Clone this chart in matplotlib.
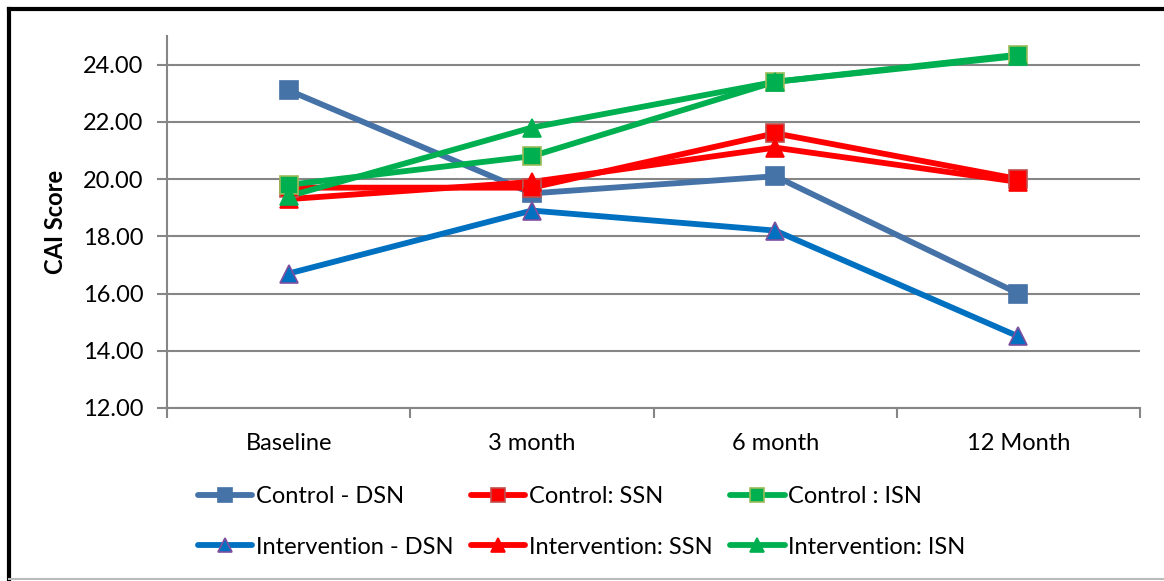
import matplotlib
matplotlib.use("Agg")
import matplotlib.pyplot as plt
from matplotlib.lines import Line2D
import numpy as np

# ---------------------------------------------------------------------------
# Data
# ---------------------------------------------------------------------------
categories = ["Baseline", "3 month", "6 month", "12 Month"]

control_dsn = [23.1, 19.5, 20.1, 16.0]
control_ssn = [19.7, 19.7, 21.6, 20.0]
control_isn = [19.8, 20.8, 23.4, 24.35]
intervention_dsn = [16.7, 18.9, 18.2, 14.5]
intervention_ssn = [19.3, 19.9, 21.1, 19.9]
intervention_isn = [19.4, 21.8, 23.4, 24.3]

y_ticks = [12, 14, 16, 18, 20, 22, 24]

plt.rcParams["font.family"] = ["Lato", "DejaVu Sans"]

fig = plt.figure(figsize=(11.64, 5.81), dpi=100)
ax = fig.add_axes([0.1435, 0.2978, 0.8359, 0.6402])

x = np.arange(len(categories)) + 0.5

# series: (label, values, line colour, marker, marker face, marker edge)
series = [
    ("Control - DSN", control_dsn, "#4572A7", "s", "#4572A7", "#4572A7"),
    ("Control: SSN", control_ssn, "#FF0000", "s", "#FF0000", "#C0504D"),
    ("Control : ISN", control_isn, "#00B050", "s", "#00B050", "#9BBB59"),
    ("Intervention - DSN", intervention_dsn, "#0070C0", "^", "#0070C0", "#7F4F9F"),
    ("Intervention: SSN", intervention_ssn, "#FF0000", "^", "#FF0000", "#FF0000"),
    ("Intervention: ISN", intervention_isn, "#00B050", "^", "#00B050", "#00B050"),
]

handles = {}
for i, (label, vals, col, mk, mfc, mec) in enumerate(series):
    ax.plot(x, vals, color=col, linewidth=4.2, zorder=3 + i, solid_capstyle="round")
    ax.plot(x, vals, linestyle="none", marker=mk, markersize=13,
            markerfacecolor=mfc, markeredgecolor=mec, markeredgewidth=1.2,
            zorder=10 + i)
    handles[label] = Line2D([], [], color=col, linewidth=4.2, marker=mk,
                            markersize=10, markerfacecolor=mfc,
                            markeredgecolor=mec, markeredgewidth=1.2,
                            solid_capstyle="round")

# Axes styling
ax.set_xlim(0, 4)
ax.set_ylim(12, 25)
ax.set_yticks(y_ticks)
ax.set_yticklabels([f"{v:.2f}" for v in y_ticks], fontsize=17)
ax.grid(axis="y", color="#868686", linewidth=1.5, zorder=0)
ax.set_axisbelow(True)

ax.set_xticks([0, 1, 2, 3, 4])
ax.set_xticklabels([])
ax.set_xticks(x, minor=True)
ax.set_xticklabels(categories, minor=True, fontsize=17)
ax.tick_params(axis="x", which="minor", length=0, pad=18)
ax.tick_params(axis="x", which="major", length=7, width=1.5, color="#868686",
               direction="out")
ax.tick_params(axis="y", length=7, width=1.5, color="#868686", direction="out",
               pad=10)

for side in ["top", "right"]:
    ax.spines[side].set_visible(False)
for side in ["left", "bottom"]:
    ax.spines[side].set_color("#868686")
    ax.spines[side].set_linewidth(1.5)

ax.set_ylabel("CAI Score", fontsize=17, fontweight="bold")
ax.yaxis.set_label_coords(-0.103, 0.5)

# Legend: column-major order so rows read Control / Intervention
order = ["Control - DSN", "Intervention - DSN", "Control: SSN",
         "Intervention: SSN", "Control : ISN", "Intervention: ISN"]
fig.legend([handles[k] for k in order], order, ncol=3, frameon=False,
           loc="upper left", bbox_to_anchor=(198 / 1164, 1 - 486 / 581),
           fontsize=17, handlelength=2.3, handletextpad=0.15,
           columnspacing=0.75, labelspacing=1.25, borderpad=0,
           borderaxespad=0)

# Outer frame
fig.add_artist(Line2D([9 / 1164, 9 / 1164], [0, 1 - 9 / 581], color="black",
                      linewidth=3, transform=fig.transFigure))
fig.add_artist(Line2D([9 / 1164, 1], [1 - 9 / 581, 1 - 9 / 581], color="black",
                      linewidth=3, transform=fig.transFigure))
fig.add_artist(Line2D([9 / 1164, 1], [2 / 581, 2 / 581], color="#BBBBBB",
                      linewidth=1.5, transform=fig.transFigure))

fig.savefig("out.png", dpi=100)
